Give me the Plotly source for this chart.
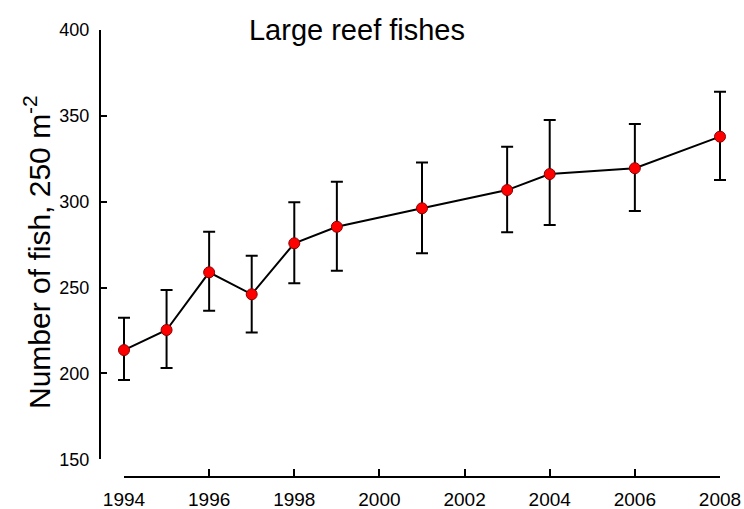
import plotly.graph_objects as go

years = [1994, 1995, 1996, 1997, 1998, 1999, 2001, 2003, 2004, 2006, 2008]
means = [213.6, 225.3, 258.9, 246.1, 275.8, 285.4, 296.2, 306.8, 316.1, 319.5, 337.9]
upper = [232.4, 248.6, 282.5, 268.6, 299.7, 311.6, 322.9, 332.0, 347.6, 345.3, 364.1]
lower = [196.2, 203.1, 236.5, 223.9, 252.5, 259.8, 270.0, 282.2, 286.4, 294.6, 312.6]
x_ticks = [1994, 1996, 1998, 2000, 2002, 2004, 2006, 2008]
y_ticks = [150, 200, 250, 300, 350, 400]

err_plus = [u - m for u, m in zip(upper, means)]
err_minus = [m - l for m, l in zip(means, lower)]

FONT = "Liberation Sans, Arial, sans-serif"

fig = go.Figure()
fig.add_trace(go.Scatter(x=[], y=[], xaxis="x2", yaxis="y", showlegend=False))
fig.add_trace(go.Scatter(
    x=years, y=means, mode="lines+markers",
    line=dict(color="black", width=2),
    marker=dict(size=11, color="#ff0000", line=dict(color="#8b0000", width=1)),
    error_y=dict(type="data", array=err_plus, arrayminus=err_minus,
                 color="black", thickness=2, width=6),
    showlegend=False, cliponaxis=False,
))

fig.update_layout(
    width=744, height=509,
    margin=dict(l=100, r=4, t=30, b=32),
    paper_bgcolor="white", plot_bgcolor="rgba(0,0,0,0)",
    font=dict(family=FONT, color="black", size=18),
    title=dict(text="Large reef fishes", xref="container", yref="container",
               x=357/744, y=1 - 30/509, xanchor="center", yanchor="middle",
               font=dict(size=29, family=FONT, color="black")),
    xaxis=dict(range=[1994 - 24/42.571, 2008 + 20/42.571], domain=[0, 1],
               visible=False, showgrid=False, zeroline=False, automargin=False),
    xaxis2=dict(range=[1994, 2008], domain=[24/640, 620/640],
                anchor="free", position=0, automargin=False,
                tickmode="array", tickvals=x_ticks,
                showline=True, linecolor="black", linewidth=2,
                ticks="inside", ticklen=7, tickwidth=2, tickcolor="black",
                ticklabelstandoff=5,
                tickfont=dict(size=19),
                showgrid=False, zeroline=False),
    yaxis=dict(range=[150, 400], domain=[(477 - 459.3) / 447, 1],
               anchor="free", position=0, automargin=False,
               tickmode="array", tickvals=y_ticks,
               showline=True, linecolor="black", linewidth=2,
               ticks="inside", ticklen=6, tickwidth=2, tickcolor="black",
               ticklabelstandoff=6,
               tickfont=dict(size=18),
               showgrid=False, zeroline=False),
    annotations=[dict(text="Number of fish, 250 m<sup>-2</sup>",
                      xref="paper", yref="paper",
                      x=(37 - 100) / 640, y=(477 - 252) / 447,
                      xanchor="center", yanchor="middle", textangle=-90,
                      showarrow=False,
                      font=dict(size=30, family=FONT, color="black"))],
)

fig.write_html("out.html", config={"displayModeBar": False},
               post_script="document.body.style.margin='0';")
